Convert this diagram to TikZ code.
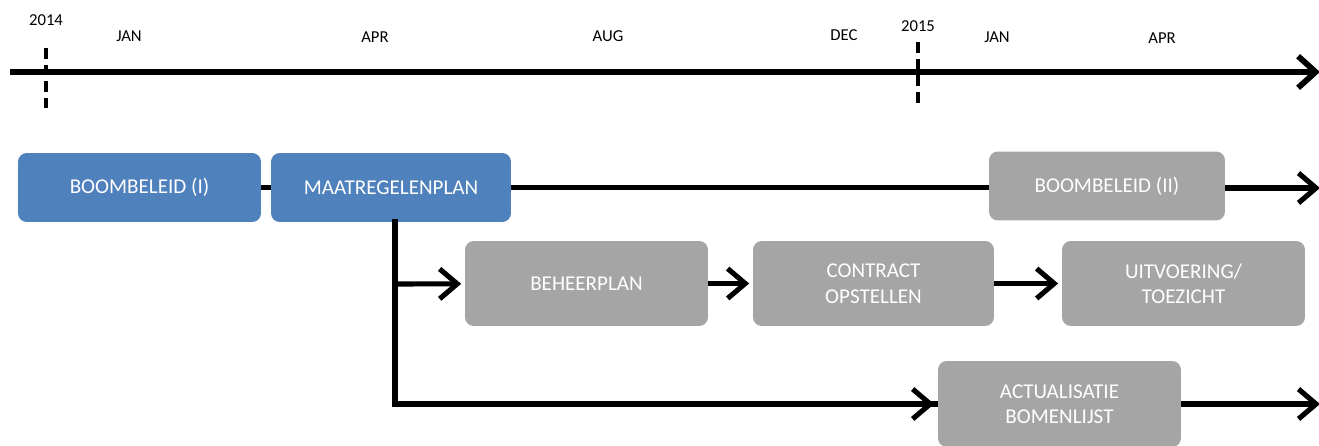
\documentclass[tikz,border=0pt]{standalone}
\usepackage{fontspec}
\setmainfont{Carlito}
\usetikzlibrary{arrows.meta}

\begin{document}
\begin{tikzpicture}[x=0.02cm,y=-0.02cm,
        box/.style={rounded corners=5pt,text=white,align=center,inner sep=0pt,
            minimum height=1.38cm,font=\fontsize{12}{14.5}\selectfont},
        bluebox/.style={box,fill={rgb,255:red,79;green,129;blue,189}},
        graybox/.style={box,fill={rgb,255:red,165;green,165;blue,165}},
        month/.style={font=\fontsize{9.5}{11}\selectfont},
        flow/.style={line width=2.9pt},
        tip/.style={flow,-{Straight Barb[length=10pt,width=17pt]},shorten >=2pt},
        year/.style={line width=2.2pt,dash pattern=on 6pt off 3.5pt}]
        \useasboundingbox (0,0) rectangle (1319,446);
        % time line with years and months
        \coordinate (t0) at (10,72);
        \coordinate (t1) at (1320,72);
        \draw[line width=3.3pt,-{Straight Barb[length=10pt,width=18pt]}] (t0) -- (t1);
        \coordinate (y1a) at (46,48);
        \coordinate (y1b) at (46,108);
        \coordinate (y2a) at (918,42);
        \coordinate (y2b) at (918,107);
        \draw[year] (y1a) -- (y1b);
        \draw[year] (y2a) -- (y2b);
        \node[month] (y1) at (46,20) {2014};
        \node[month] (y2) at (918,26) {2015};
        \node[month] (m1) at (129,36) {JAN};
        \node[month] (m2) at (375,37) {APR};
        \node[month] (m3) at (608,36) {AUG};
        \node[month] (m4) at (844,35) {DEC};
        \node[month] (m5) at (997,37) {JAN};
        \node[month] (m6) at (1162,38) {APR};
        % boxes
        \node[bluebox,minimum width=4.86cm] (b1) at (139.5,187.5) {BOOMBELEID (I)};
        \node[bluebox,minimum width=4.8cm] (mp) at (391,187.5) {MAATREGELENPLAN};
        \node[graybox,minimum width=4.72cm] (b2) at (1107,186) {BOOMBELEID (II)};
        \node[graybox,minimum width=4.86cm,minimum height=1.7cm] (bp) at (586.5,283.5) {BEHEERPLAN};
        \node[graybox,minimum width=4.82cm,minimum height=1.7cm] (co) at (873.5,283.5) {CONTRACT\\OPSTELLEN};
        \node[graybox,minimum width=4.86cm,minimum height=1.7cm] (ui) at (1183.5,283.5) {UITVOERING/\\TOEZICHT};
        \node[graybox,minimum width=4.86cm,minimum height=1.72cm] (ac) at (1059.5,404) {ACTUALISATIE\\BOMENLIJST};
        % connectors
        \coordinate (e1) at (1320,188);
        \coordinate (e2) at (1320,404);
        \coordinate (v0) at (395,222);
        \coordinate (v1) at (395,284);
        \coordinate (v2) at (395,404);
        \draw[flow] (b1) -- (mp);
        \draw[flow] (mp.east) -- (mp.east -| b2.west);
        \draw[tip,shorten >=0pt] (b2.east |- e1) -- (e1);
        \draw[flow,line cap=rect] (v0) -- (v2);
        \draw[flow] (v2) -- (ac.west);
        \draw[tip] (v1) -- (bp);
        \draw[tip] (bp) -- (co);
        \draw[tip] (co) -- (ui);
        \draw[tip] (v2) -- (ac);
        \draw[tip,shorten >=0pt] (ac) -- (e2);
\end{tikzpicture}
\end{document}
